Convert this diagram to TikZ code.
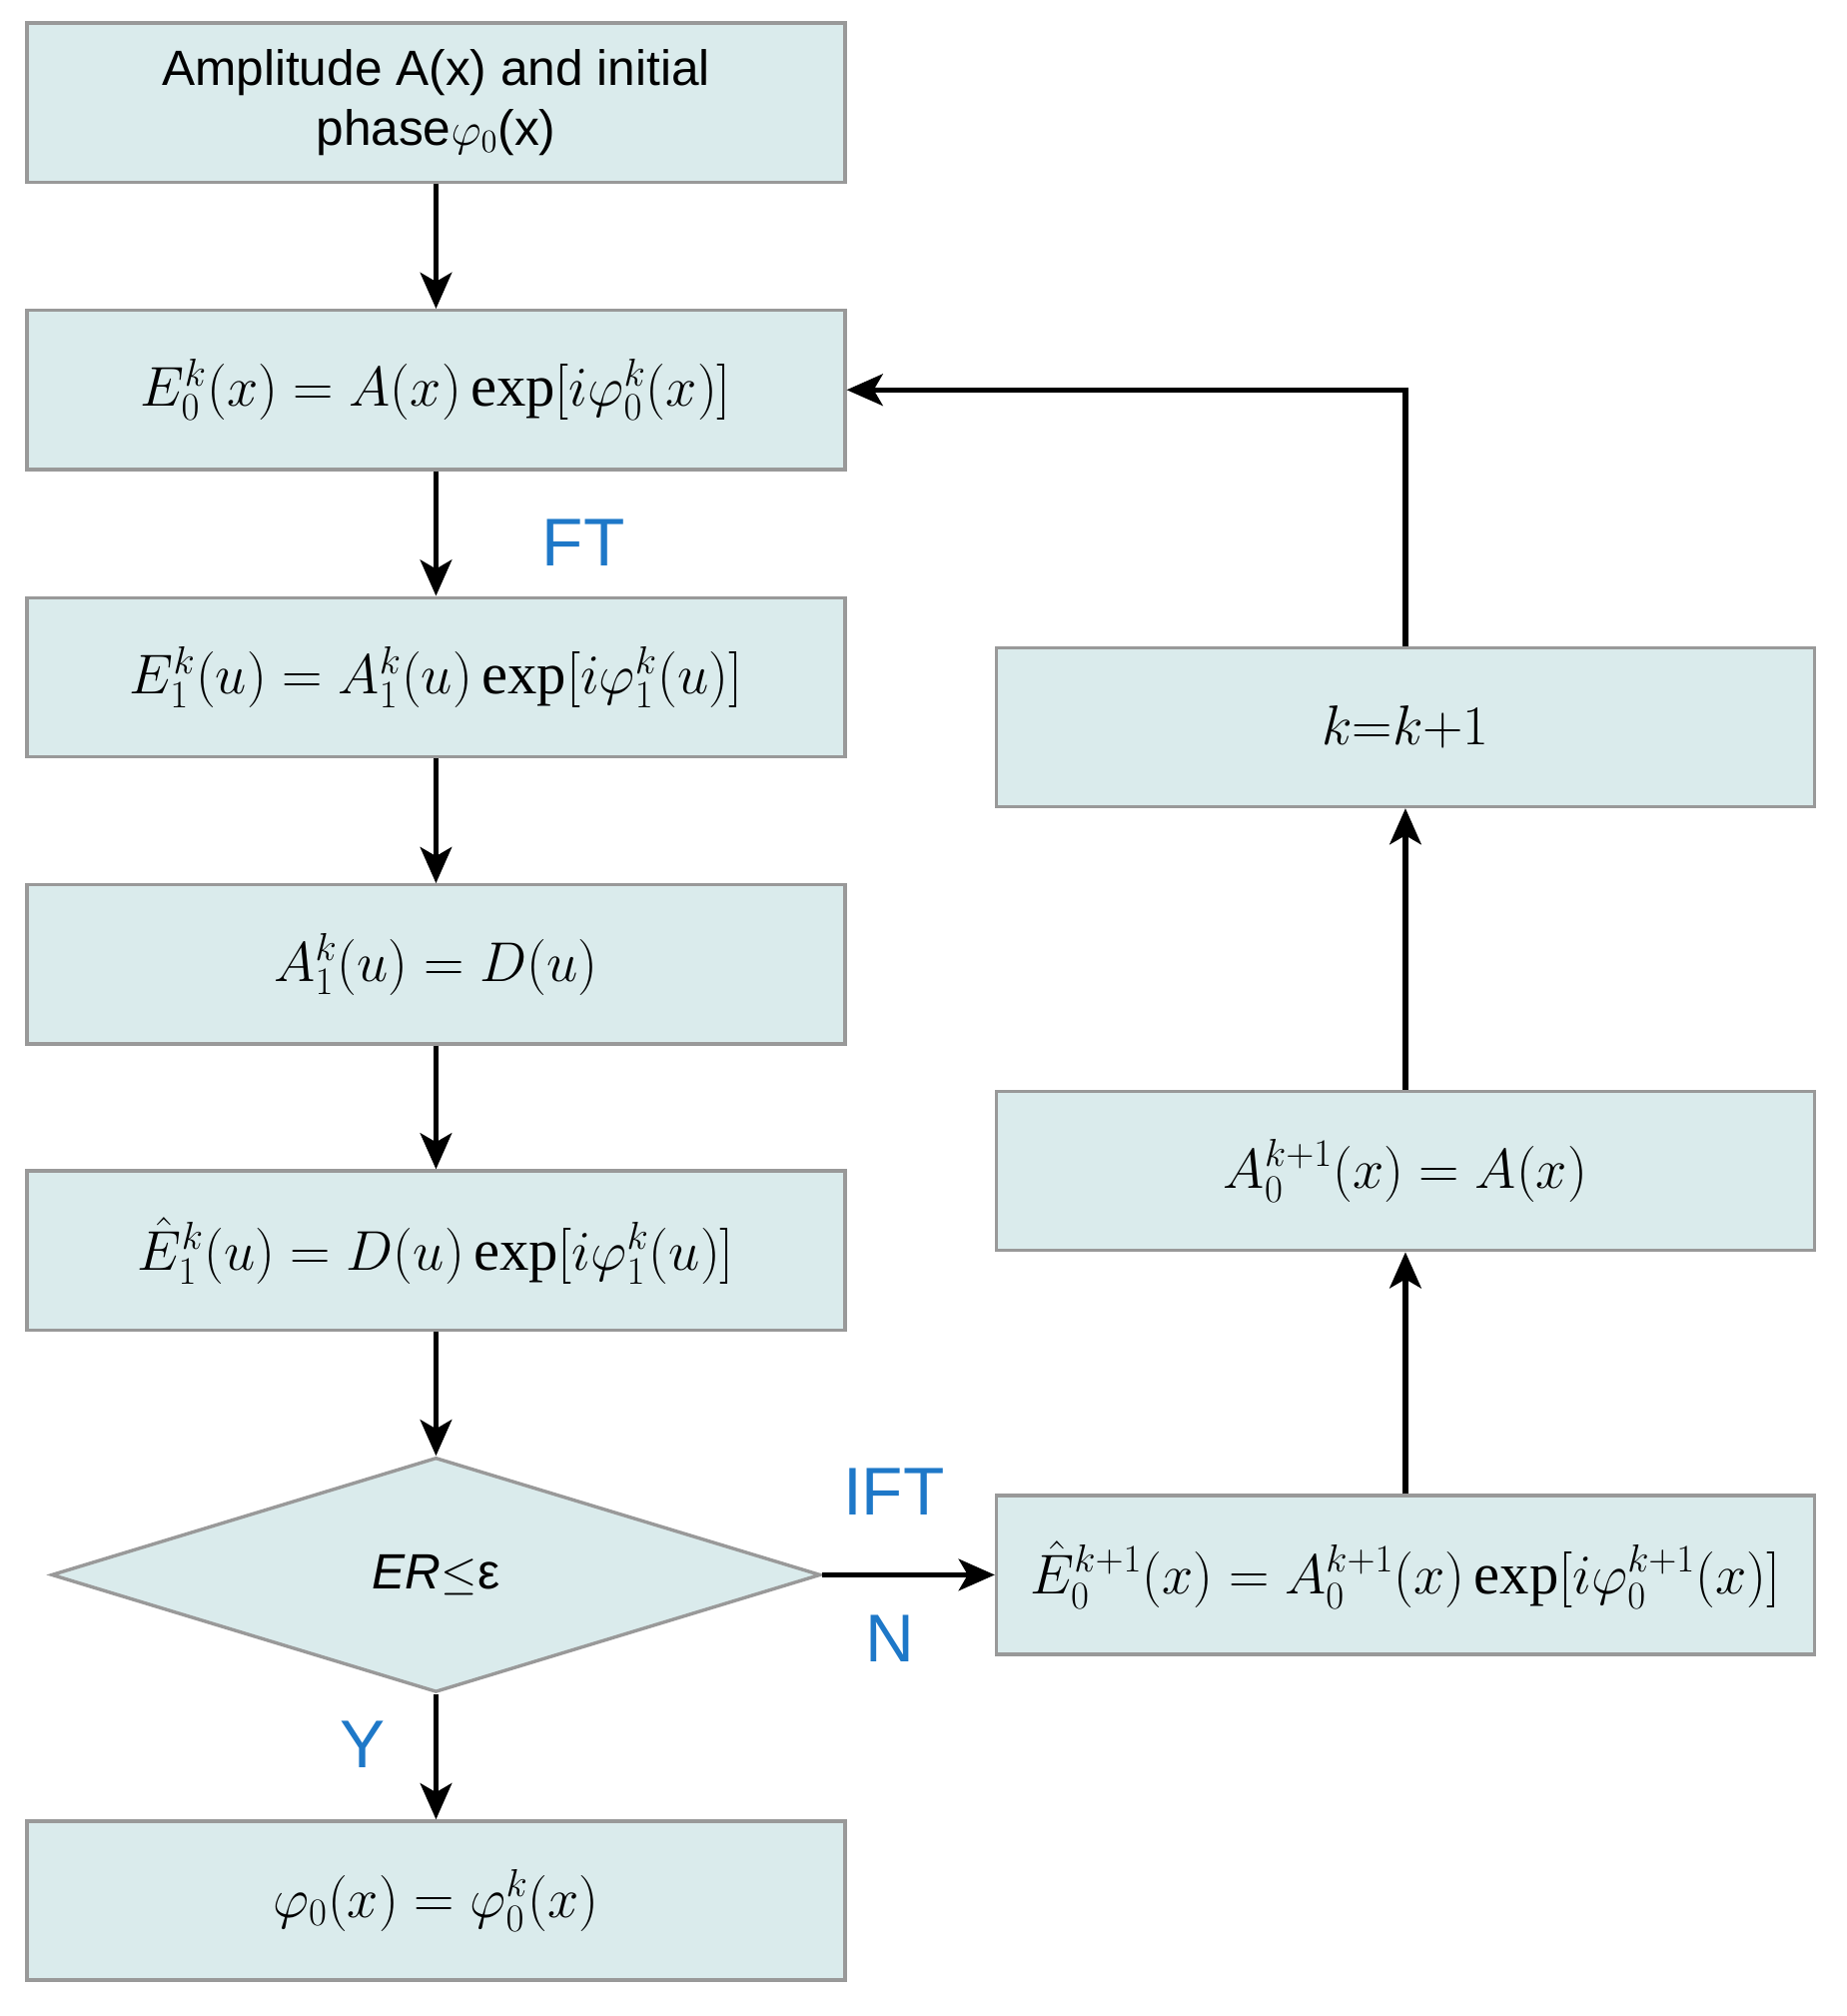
\documentclass[tikz,border=0pt]{standalone}
\usepackage{amsmath}
\usepackage{fontspec}
\setmainfont{Liberation Sans}
\newfontfamily\serifexp{Liberation Serif}
\newcommand{\myexp}{\mathop{\text{\serifexp exp}}\nolimits}
\usetikzlibrary{shapes.geometric,arrows.meta}
\definecolor{boxfill}{HTML}{DAEBEC}
\definecolor{lblue}{HTML}{1E78C8}
\begin{document}
\begin{tikzpicture}[x=0.02cm,y=-0.02cm,
  box/.style={draw=gray!80,line width=1.5pt,fill=boxfill,minimum width=12.76cm,minimum height=2.48cm,inner sep=0pt,font=\fontsize{22}{27}\selectfont,align=center},
  mth/.style={font=\fontsize{26}{30}\selectfont},
  arr/.style={line width=2.4pt,-{Stealth[length=16pt,width=14pt,inset=4pt]}},
  lab/.style={text=lblue,font=\fontsize{30}{34}\selectfont}]
\useasboundingbox (0,0) rectangle (1440,1572);
\node[box] (b1) at (340,80) {Amplitude A(x) and initial\\phase$\varphi_0$(x)};
\node[box,mth] (b2) at (340,304) {$E_0^k(x)=A(x)\myexp[i\varphi_0^k(x)]$};
\node[box,mth] (b3) at (340,528) {$E_1^k(u)=A_1^k(u)\myexp[i\varphi_1^k(u)]$};
\node[box,mth] (b4) at (340,752) {$A_1^k(u)=D(u)$};
\node[box,mth] (b5) at (340,975) {$\hat{E}_1^k(u)=D(u)\myexp[i\varphi_1^k(u)]$};
\node[diamond,draw=gray!80,line width=1.5pt,fill=boxfill,minimum width=12cm,minimum height=3.66cm,inner sep=0pt,aspect=3.28,font=\fontsize{22}{27}\selectfont] (d) at (340,1228) {\textit{ER}$\leq$ε};
\node[box,mth] (b6) at (340,1482) {$\varphi_0(x)=\varphi_0^k(x)$};
\node[box,mth] (r1) at (1096,567) {$k{=}k{+}1$};
\node[box,mth] (r2) at (1096,913) {$A_0^{k+1}(x)=A(x)$};
\node[box,mth] (r3) at (1096,1228) {$\hat{E}_0^{k+1}(x)=A_0^{k+1}(x)\myexp[i\varphi_0^{k+1}(x)]$};
\draw[arr] (b1) -- (b2);
\draw[arr] (b2) -- (b3);
\draw[arr] (b3) -- (b4);
\draw[arr] (b4) -- (b5);
\draw[arr] (b5) -- (d.north);
\draw[arr] (d.south) -- (b6);
\draw[arr] (d.east) -- (r3.west);
\draw[arr] (r3) -- (r2);
\draw[arr] (r2) -- (r1);
\draw[arr] (r1.north) |- (b2.east);
\node[lab] (ft) at (455,423) {FT};
\node[lab] (ift) at (697,1163) {IFT};
\node[lab] (n) at (694,1278) {N};
\node[lab] (y) at (283,1360) {Y};
\end{tikzpicture}
\end{document}
